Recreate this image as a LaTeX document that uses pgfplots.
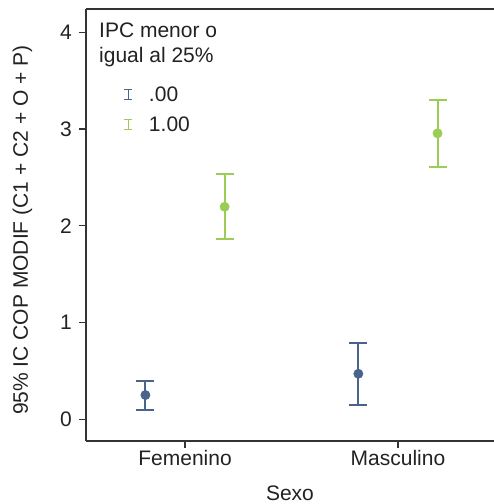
\documentclass[border=0pt]{standalone}
\usepackage{pgfplots}
\pgfplotsset{compat=1.18}
\usepackage{fontspec}
\setmainfont{Liberation Sans}
\definecolor{serA}{HTML}{48648C}
\definecolor{serB}{HTML}{9BCC55}
\definecolor{axc}{HTML}{333333}
\definecolor{txt}{HTML}{222222}

% IPC menor o igual al 25% = .00
\pgfplotstableread{
x      y     ep    em
-0.186 0.251 0.142 0.155
0.814  0.471 0.321 0.326
}\dataA
% IPC menor o igual al 25% = 1.00
\pgfplotstableread{
x     y     ep    em
0.186 2.197 0.342 0.337
1.186 2.956 0.347 0.345
}\dataB

\newcommand{\fs}{\fontsize{21}{25}\selectfont}

\begin{document}
\begin{tikzpicture}
\begin{axis}[
    scale only axis, width=408pt, height=432pt,
    xmin=-0.465, xmax=1.451, ymin=-0.224, ymax=4.241,
    axis x line=box, axis y line*=left,
    xtick={0,1}, xticklabels={Femenino,Masculino},
    ytick={0,1,2,3,4},
    xtick pos=left, ytick pos=left,
    tick align=outside, major tick length=7pt,
    tick style={axc, line width=1.2pt},
    axis line style={axc, line width=1.2pt},
    ticklabel style={font=\fs, text=txt},
    /pgf/number format/assume math mode=true,
    yticklabel style={inner sep=0pt, xshift=-7pt},
    xticklabel style={inner sep=0pt, yshift=-2pt},
    xlabel={Sexo}, ylabel={95\% IC COP MODIF (C1 + C2 + O + P)},
    label style={font=\fs, text=txt},
    xlabel style={at={(rel axis cs:0.5,-0.1366)}, anchor=base},
    ylabel style={at={(rel axis cs:-0.1422,0.488)}, anchor=base, rotate=0},
    legend style={draw=none, fill=none, inner sep=0pt, outer sep=0pt,
        at={(rel axis cs:0,1)}, anchor=north west, xshift=38pt, yshift=-78pt,
        font=\fs, text=txt, row sep=15pt, column sep=16pt,
        nodes={inner sep=0pt, text height=15pt, text depth=0pt}},
    legend cell align=left,
    legend image code/.code={
        \draw[line width=1pt] (4pt,-5pt) -- (4pt,5pt);
        \draw[line width=1pt] (0pt,-5pt) -- (8pt,-5pt);
        \draw[line width=1pt] (0pt,5pt) -- (8pt,5pt);
    },
    clip=false,
]
\addplot[serA, only marks, mark=*, mark size=4.7pt,
    error bars/.cd, y dir=both, y explicit,
    error bar style={line width=2pt, serA},
    error mark options={serA, line width=2pt, mark size=9pt, rotate=90}]
    table[x=x, y=y, y error plus=ep, y error minus=em] {\dataA};
\addlegendentry{.00}
\addplot[serB, only marks, mark=*, mark size=4.7pt,
    error bars/.cd, y dir=both, y explicit,
    error bar style={line width=2pt, serB},
    error mark options={serB, line width=2pt, mark size=9pt, rotate=90}]
    table[x=x, y=y, y error plus=ep, y error minus=em] {\dataB};
\addlegendentry{1.00}

\node[anchor=base west, inner sep=0pt, font=\fs, text=txt]
    at ([xshift=13pt, yshift=-28.7pt]rel axis cs:0,1) {IPC menor o};
\node[anchor=base west, inner sep=0pt, font=\fs, text=txt]
    at ([xshift=13pt, yshift=-54pt]rel axis cs:0,1) {igual al 25\%};
\end{axis}
\pgfresetboundingbox
\path (-86pt,-63pt) rectangle (408pt,441pt);
\end{tikzpicture}
\end{document}
